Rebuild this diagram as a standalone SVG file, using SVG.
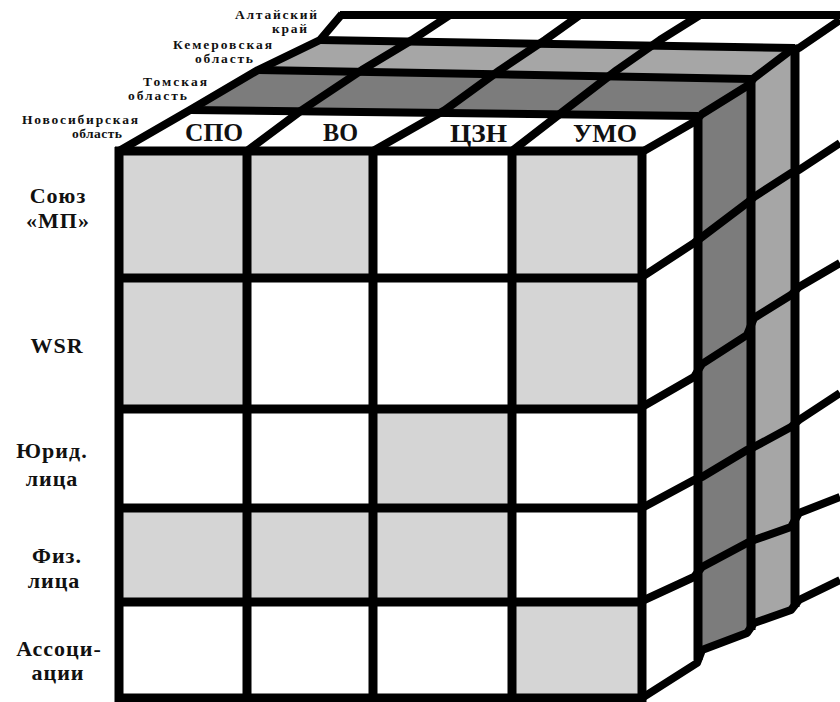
<svg xmlns="http://www.w3.org/2000/svg" width="840" height="702" viewBox="0 0 840 702">
<style>
.ln{fill:none;stroke:#000;stroke-width:9;stroke-linejoin:round}
.sl{fill:none;stroke:#000;stroke-width:8;stroke-linejoin:round}
.lg{fill:#d5d5d5}
.dk{fill:#7c7c7c}
.md{fill:#a6a6a6}
.t{font-family:"Liberation Serif","Times New Roman",serif;font-weight:bold;fill:#111}
.big{font-size:25px}
.row{font-size:22px;text-anchor:middle;letter-spacing:1px}
.reg{font-size:13.5px}
</style>
<rect width="840" height="702" fill="#fff"/>

<g id="top-face">
  <polygon class="dk" points="190,110 698,116 751,80 258,70"/>
  <polygon class="md" points="258,70 751,80 795,49 320,40"/>
  <polyline class="sl" points="190,110 698,116"/>
  <polyline class="sl" points="258,70 751,79"/>
  <polyline class="sl" points="320,40 795,48"/>
  <polyline class="sl" points="340,15 840,15"/>
  <polyline class="sl" points="119,151 190,110 258,70 320,40 342,14"/>
  <polyline class="sl" points="247,151 302,110 362,70 412,40 450,15"/>
  <polyline class="sl" points="373,151 445,110 500,70 545,40 580,15"/>
  <polyline class="sl" points="512,151 565,110 617,70 660,40 700,15"/>
</g>

<g id="right-face">
  <polygon class="dk" points="698,117 702,114 747,86 751,82 751,628 747,633 702,650 698,656"/>
  <polygon class="md" points="751,81 754,78 791,50 795,49 795,606 791,610 754,623 751,626"/>
  <polyline class="sl" points="642,152 694,122 702,114 747,86 754,78 791,50 799,48 840,20"/>
  <polyline class="sl" points="642,277 694,243 702,237 747,203 754,197 791,173 799,170 840,143"/>
  <polyline class="sl" points="642,407 694,377 702,364 747,335 754,318 791,295 799,287 840,263"/>
  <polyline class="sl" points="642,508 694,480 702,477 747,450 754,447 791,427 799,420 840,393"/>
  <polyline class="sl" points="642,601 694,577 702,567 747,543 754,540 791,527 799,513 840,497"/>
  <polyline class="sl" points="642,698 697,663 702,650 747,633 754,623 791,610 799,600 840,580"/>
  <path class="ln" d="M698,115V660M751,78V630M795,47V607"/>
</g>

<g id="front-face">
  <rect x="119" y="151" width="523" height="547" fill="#fff"/>
  <rect class="lg" x="119" y="151" width="128" height="127"/>
  <rect class="lg" x="247" y="151" width="126" height="127"/>
  <rect class="lg" x="512" y="151" width="130" height="127"/>
  <rect class="lg" x="119" y="278" width="128" height="131"/>
  <rect class="lg" x="512" y="278" width="130" height="131"/>
  <rect class="lg" x="373" y="409" width="139" height="99"/>
  <rect class="lg" x="119" y="508" width="128" height="94"/>
  <rect class="lg" x="247" y="508" width="126" height="94"/>
  <rect class="lg" x="373" y="508" width="139" height="94"/>
  <rect class="lg" x="512" y="602" width="130" height="96"/>
  <path class="ln" d="M119,147V702M247,151V698M373,151V698M512,151V698M642,147V702"/>
  <path class="ln" d="M115,151H646M115,278H646M115,409H646M115,508H646M115,602H646M115,698H646"/>
</g>

<g id="labels">
  <text class="t big" x="185" y="141" textLength="58" lengthAdjust="spacingAndGlyphs">СПО</text>
  <text class="t big" x="323" y="141" textLength="35" lengthAdjust="spacingAndGlyphs">ВО</text>
  <text class="t big" x="450" y="142" textLength="57" lengthAdjust="spacingAndGlyphs">ЦЗН</text>
  <text class="t big" x="573" y="142" textLength="64" lengthAdjust="spacingAndGlyphs">УМО</text>

  <text class="t row" x="58" y="203">Союз</text>
  <text class="t row" x="58" y="228">«МП»</text>
  <text class="t row" x="57" y="353">WSR</text>
  <text class="t row" x="52" y="458">Юрид.</text>
  <text class="t row" x="52" y="486">лица</text>
  <text class="t row" x="57" y="563">Физ.</text>
  <text class="t row" x="54" y="588">лица</text>
  <text class="t row" x="59" y="656">Ассоци-</text>
  <text class="t row" x="58" y="680">ации</text>

  <text class="t reg" x="235" y="19" textLength="82" lengthAdjust="spacing">Алтайский</text>
  <text class="t reg" x="272" y="33" textLength="35" lengthAdjust="spacing">край</text>
  <text class="t reg" x="173" y="49" textLength="99" lengthAdjust="spacing">Кемеровская</text>
  <text class="t reg" x="195" y="63" textLength="58" lengthAdjust="spacing">область</text>
  <text class="t reg" x="143" y="86" textLength="64" lengthAdjust="spacing">Томская</text>
  <text class="t reg" x="128" y="100" textLength="59" lengthAdjust="spacing">область</text>
  <text class="t reg" x="22" y="124" textLength="116" lengthAdjust="spacing">Новосибирская</text>
  <text class="t reg" x="72" y="138" textLength="50" lengthAdjust="spacing">область</text>
</g>
</svg>
